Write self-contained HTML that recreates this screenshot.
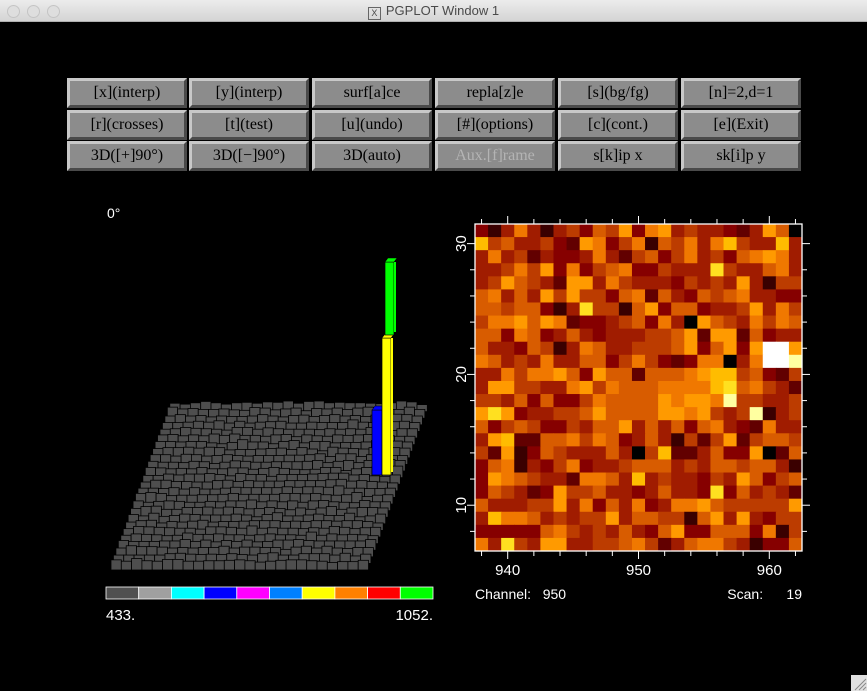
<!DOCTYPE html>
<html><head><meta charset="utf-8"><style>
html,body{margin:0;padding:0;width:867px;height:691px;overflow:hidden;background:#000;font-family:"Liberation Sans",sans-serif}
#titlebar{position:absolute;left:0;top:0;width:867px;height:22px;background:linear-gradient(#ececec,#d4d4d4);border-bottom:1px solid #b0b0b0;box-sizing:border-box}
.dot{position:absolute;top:5px;width:11px;height:11px;border-radius:50%;border:1px solid #c4c4c4;background:#dedede}
#title{position:absolute;left:0;width:867px;top:3px;text-align:center;font-size:13px;color:#4a4a4a;line-height:15px}
#xicon{display:inline-block;width:11px;height:11px;border:1px solid #666;font-size:9px;line-height:11px;vertical-align:-1px;margin-right:5px;text-align:center}
.btn{position:absolute;width:120px;height:30px;box-sizing:border-box;background:#8c8c8c;border-style:solid;border-width:3px;border-color:#c8c8c8 #4a4a4a #4a4a4a #c8c8c8;font-family:"Liberation Serif",serif;font-size:16px;color:#000;text-align:center;line-height:24px}
.btn.dis{color:#b4b4b4}
svg{position:absolute;left:0;top:0}
.pre{white-space:pre}
</style></head><body>
<div id="titlebar">
<div class="dot" style="left:7px"></div>
<div class="dot" style="left:27px"></div>
<div class="dot" style="left:47px"></div>
<div id="title"><span id="xicon">X</span>PGPLOT Window 1</div>
</div>
<div id="buttons"></div>
<svg id="chart" width="867" height="691"></svg>
<script>
const btnLabels=[["[x](interp)","[y](interp)","surf[a]ce","repla[z]e","[s](bg/fg)","[n]=2,d=1"],["[r](crosses)","[t](test)","[u](undo)","[#](options)","[c](cont.)","[e](Exit)"],["3D([+]90°)","3D([−]90°)","3D(auto)","Aux.[f]rame","s[k]ip x","sk[i]p y"]];
const channels=[938,939,940,941,942,943,944,945,946,947,948,949,950,951,952,953,954,955,956,957,958,959,960,961,962];
const scansTopDown=[31,30,29,28,27,26,25,24,23,22,21,20,19,18,17,16,15,14,13,12,11,10,9,8,7];
const levels=[
[3,1,4,7,4,1,4,5,3,6,5,8,3,7,8,4,5,4,4,3,2,4,8,6,0],
[9,5,6,4,4,5,3,2,8,7,3,5,7,1,6,5,7,4,7,9,5,4,4,9,4],
[4,7,4,5,2,4,3,3,4,7,4,2,5,6,3,5,7,4,5,3,6,7,8,7,4],
[4,4,5,7,5,8,3,7,3,5,6,7,3,3,5,4,4,4,10,5,4,4,6,7,4],
[4,5,8,6,5,4,2,8,8,4,7,5,4,4,4,3,5,4,5,4,8,4,1,5,5],
[6,7,4,6,4,8,5,8,5,5,3,6,7,2,6,4,3,6,5,6,7,4,4,3,3],
[6,6,5,6,6,3,1,4,10,5,5,1,6,8,3,6,6,3,4,4,5,8,4,7,5],
[5,7,7,8,6,8,7,2,3,3,4,5,6,3,7,4,0,8,6,5,4,7,5,7,6],
[6,6,3,7,6,3,4,6,4,3,4,4,4,5,5,6,8,2,8,8,2,6,3,4,4],
[6,4,4,3,6,5,1,4,7,6,4,4,5,5,5,6,8,3,6,8,3,8,12,12,8],
[7,6,4,5,4,7,4,4,6,6,3,5,7,5,3,2,3,7,7,0,4,7,12,12,11],
[4,4,7,5,7,7,8,6,3,8,6,6,2,6,6,6,7,8,9,9,5,6,3,2,5],
[4,8,8,5,5,4,4,7,8,5,7,6,6,6,7,7,7,7,9,10,6,7,5,4,2],
[5,5,4,6,3,6,3,3,5,7,6,6,6,6,8,7,8,8,7,11,5,5,4,4,5],
[8,10,8,3,4,4,5,5,6,8,6,6,6,6,8,8,7,8,5,4,5,11,1,4,5],
[6,3,5,6,5,3,3,5,4,6,6,8,4,6,4,6,3,6,7,4,3,2,7,4,4],
[4,8,9,2,2,6,6,7,5,7,6,3,4,6,4,1,5,2,5,8,2,5,6,6,5],
[5,2,8,1,3,6,5,4,4,4,6,4,0,5,9,2,2,4,6,3,3,8,0,2,6],
[3,6,7,1,4,3,5,7,3,4,4,5,6,6,6,4,5,4,6,6,5,6,6,4,1],
[3,8,7,6,5,4,4,2,7,7,6,4,9,4,5,4,4,3,5,4,8,6,3,5,6],
[3,6,5,4,2,3,8,5,5,6,4,4,3,4,6,4,4,3,10,3,6,4,5,4,2],
[6,4,4,4,5,5,8,4,7,3,6,4,7,3,4,7,7,8,6,5,5,5,5,5,8],
[4,9,7,7,6,4,5,4,5,5,8,4,6,6,5,5,1,6,8,4,8,4,3,5,5],
[3,3,3,3,3,6,7,5,4,5,4,6,4,3,6,8,3,3,6,6,6,3,7,1,5],
[7,4,10,5,4,8,8,4,4,5,5,6,7,5,2,4,6,7,7,5,4,1,3,3,6]];
const xTicks=[940,950,960];
const yTicks=[10,20,30];
const barColors=["#505050","#a0a0a0","#00ffff","#0000ff","#ff00ff","#0080ff","#ffff00","#ff8000","#ff0000","#00ff00"];
const rangeLabels=["433.","1052."];
const spikeBars=[{c:"#0000ff",h:65},{c:"#ffff00",h:137},{c:"#00ff00",h:73}];

const heat=["#000000","#3a0000","#620000","#860000","#a01c00","#bc3c00","#d85c00","#f07800","#ff9a00","#ffbc00","#ffe020","#ffffa0","#ffffff"];
const NS="http://www.w3.org/2000/svg";
const svg=document.getElementById('chart');
function el(t,a,p){const e=document.createElementNS(NS,t);for(const k in a)e.setAttribute(k,a[k]);(p||svg).appendChild(e);return e;}

// buttons
const bx=[67,189,312,435,558,681],by=[78,110,141];
const bc=document.getElementById('buttons');
btnLabels.forEach((row,r)=>row.forEach((t,c)=>{
 const d=document.createElement('div');
 d.className='btn'+(t==="Aux.[f]rame"?' dis':'');
 d.style.left=bx[c]+'px';d.style.top=by[r]+'px';d.textContent=t;
 
 
 bc.appendChild(d);
}));

// heatmap axes
const L=475,R=802,T=224,B=551;
const sx=v=>L+(v-937.5)*13.08;
const sy=v=>B-(v-6.5)*13.08;
const hm=el('g',{});


levels.forEach((row,j)=>row.forEach((v,i)=>{
 const r=el('rect',{x:sx(channels[i]-0.5),y:sy(scansTopDown[j]+0.5),width:13.6,height:13.6,fill:heat[v]},hm);
 
 
}));
const fr=el('rect',{x:L,y:T,width:R-L,height:B-T,fill:'none',stroke:'#fff','stroke-width':1.3});


for(let v=938;v<=962;v+=2){const x=sx(v),len=v%10==0?8:5;
 el('line',{x1:x,x2:x,y1:T,y2:T-len,stroke:'#fff'});el('line',{x1:x,x2:x,y1:B,y2:B+len,stroke:'#fff'});}
for(let v=8;v<=30;v+=2){const y=sy(v),len=v%10==0?8:5;
 el('line',{x1:L,x2:L-len,y1:y,y2:y,stroke:'#fff'});el('line',{x1:R,x2:R+len,y1:y,y2:y,stroke:'#fff'});}
xTicks.forEach(v=>{const t=el('text',{x:sx(v),y:B+24,fill:'#fff','font-size':15,'text-anchor':'middle'});t.textContent=v;
 });
yTicks.forEach(v=>{const t=el('text',{x:L-14,y:sy(v),fill:'#fff','font-size':15,'text-anchor':'middle',transform:`rotate(-90 ${L-14} ${sy(v)})`,dy:5});t.textContent=v;
 });
let t=el('text',{x:475,y:599,fill:'#fff','font-size':14,'class':'pre'});t.textContent='Channel:   950';

t=el('text',{x:802,y:599,fill:'#fff','font-size':14,'text-anchor':'end','class':'pre'});t.textContent='Scan:      19';


// 3D surface
t=el('text',{x:107,y:218,fill:'#fff','font-size':14});t.textContent='0°';

const g3=el('g',{});


const X0=111,Y0=570,DX=10.3,SKX=2.45,DY=6.6;
for(let j=0;j<25;j++){
 for(let i=0;i<25;i++){
  const v=Math.min(levels[j][i],10);
  const h=3+v*0.45;
  const depth=24-j;
  const x=X0+i*DX+depth*SKX, y=Y0-depth*DY;
  const b=el('rect',{x:x,y:y-h-4,width:DX,height:h+4,fill:'#4e4e4e',stroke:'#000','stroke-width':0.8},g3);
  
  
 }
}
const spikeX=[372,382,385],spikeBase=[475,475,335];
spikeBars.forEach((s,k)=>{
 const x=spikeX[k],w=k==0?10:9,b=spikeBase[k];
 const r=el('rect',{x:x,y:b-s.h,width:w,height:s.h,fill:s.c,stroke:'#000','stroke-width':0.7},g3);
 
 el('polygon',{points:`${x},${b-s.h} ${x+3},${b-s.h-4} ${x+w+3},${b-s.h-4} ${x+w},${b-s.h}`,fill:s.c,stroke:'#000','stroke-width':0.5},g3);
 el('rect',{x:x+w,y:b-s.h,width:2,height:s.h-3,fill:s.c},g3);
});

// colour bar
const cbL=106,cbR=433,cbT=587,cbH=12,sw=(cbR-cbL)/barColors.length;
barColors.forEach((c,k)=>{const r=el('rect',{x:cbL+k*sw,y:cbT,width:sw,height:cbH,fill:c,stroke:'#fff','stroke-width':0.8});
 });
t=el('text',{x:106,y:620,fill:'#fff','font-size':15});t.textContent=rangeLabels[0];

t=el('text',{x:433,y:620,fill:'#fff','font-size':15,'text-anchor':'end'});t.textContent=rangeLabels[1];


const gr=el('g',{});
el('rect',{x:851,y:675,width:16,height:16,fill:'#e0e0e0'},gr);
[4,8,12].forEach(d=>el('line',{x1:867-d,y1:690,x2:866,y2:691-d,stroke:'#888'},gr));
</script>
</body></html>
